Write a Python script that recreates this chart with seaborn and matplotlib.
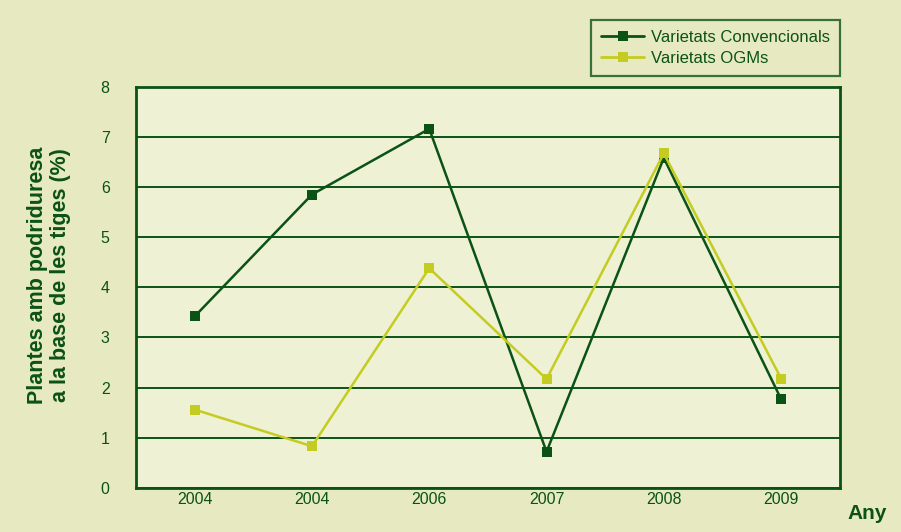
import numpy as np
import pandas as pd
import matplotlib
matplotlib.use("Agg")
import matplotlib.pyplot as plt
import seaborn as sns
from matplotlib.lines import Line2D

# data
years = ["2004", "2004", "2006", "2007", "2008", "2009"]
convencionals = [3.42, 5.85, 7.16, 0.72, 6.58, 1.77]
ogms = [1.56, 0.83, 4.38, 2.17, 6.67, 2.18]
series_names = ["Varietats Convencionals", "Varietats OGMs"]

dark = "#0b5216"
light = "#c4cc22"
fig_bg = "#e7eac0"
ax_bg = "#eef1d3"

df = pd.DataFrame({
    "pos": list(range(len(years))) * 2,
    "valor": convencionals + ogms,
    "serie": [series_names[0]] * len(years) + [series_names[1]] * len(years),
})

sns.set_style("white")
plt.rcParams["font.family"] = ["Liberation Sans", "DejaVu Sans"]

fig = plt.figure(figsize=(9.01, 5.32), dpi=100, facecolor=fig_bg)
ax = fig.add_axes([0.151, 0.083, 0.781, 0.754])
ax.set_facecolor(ax_bg)

sns.lineplot(data=df, x="pos", y="valor", hue="serie", style="serie",
             palette=[dark, light], markers=["s", "s"], dashes=False,
             markersize=7, markeredgewidth=0, linewidth=1.8, ax=ax,
             legend=False, zorder=3)

ax.set_xlim(-0.5, len(years) - 0.5)
ax.set_ylim(0, 8)
ax.set_yticks(range(0, 9))
ax.yaxis.grid(True, color=dark, linewidth=1.4)
ax.set_axisbelow(True)

ax.set_xticks(np.arange(-0.5, len(years)), labels=[])
ax.set_xticks(range(len(years)), labels=years, minor=True)
ax.tick_params(axis="x", which="major", direction="out", length=6, width=1.4, color=dark)
ax.tick_params(axis="x", which="minor", length=0, pad=3, labelsize=11.5, labelcolor=dark)
ax.tick_params(axis="y", direction="out", length=4, width=1.4, color=dark,
               pad=15, labelsize=11.5, labelcolor=dark)

for s in ax.spines.values():
    s.set_color(dark)
    s.set_linewidth(2)

ax.set_xlabel("")
ax.set_ylabel("Plantes amb podriduresa\na la base de les tiges (%)", fontsize=15.5,
              fontweight="bold", color=dark, linespacing=1.1)
ax.yaxis.set_label_coords(-0.093, 0.53)
fig.text(0.963, 0.035, "Any", fontsize=15, fontweight="bold", color=dark,
         ha="center", va="center")

# legend box
handles = [Line2D([], [], color=c, marker="s", markersize=7, markeredgewidth=0, linewidth=2)
           for c in (dark, light)]
leg = fig.legend(handles, series_names, loc="upper left",
                 bbox_to_anchor=(0.656, 0.963), frameon=True, fancybox=False,
                 fontsize=12, labelcolor=dark, handlelength=2.6, handletextpad=0.4,
                 borderpad=0.6, labelspacing=0.35, borderaxespad=0)
leg.get_frame().set_facecolor(fig_bg)
leg.get_frame().set_edgecolor(dark)
leg.get_frame().set_linewidth(1.6)
for t in leg.get_texts():
    t.set_color(dark)
    t.set_fontweight("medium")

fig.savefig("out.png", dpi=100, facecolor=fig_bg)
